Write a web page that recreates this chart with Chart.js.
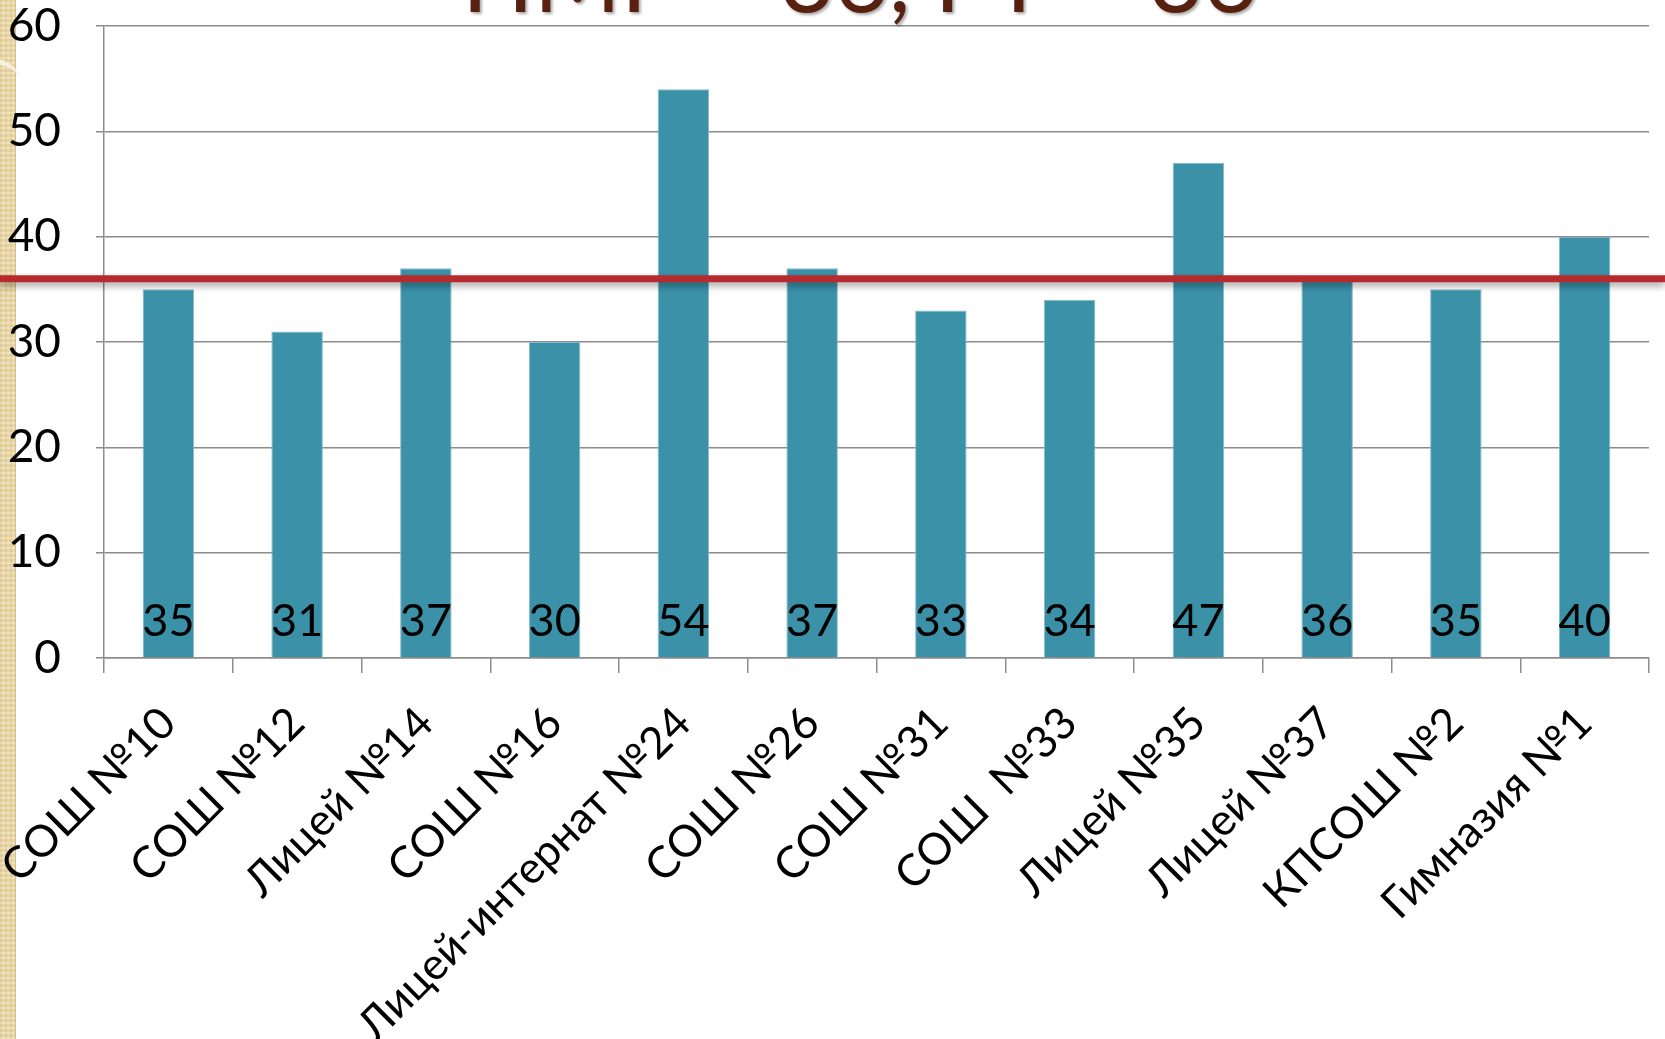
<!DOCTYPE html>
<html lang="ru">
<head>
<meta charset="utf-8">
<title>НМР – 36, РТ – 36</title>
<script src="https://cdn.jsdelivr.net/npm/chart.js@4.4.1/dist/chart.umd.min.js"></script>
<style>
  html, body { margin: 0; padding: 0; background: #fff; overflow: hidden; }
  #wrap { position: relative; width: 1665px; height: 1039px; }
  #strip {
    position: absolute; left: 0; top: 0; width: 15px; height: 100%;
    background-color: #e8d5a3;
    background-image:
      repeating-linear-gradient(0deg, rgba(255,255,255,0.3) 0 2px, transparent 2px 5px),
      repeating-linear-gradient(90deg, rgba(190,165,100,0.25) 0 2px, transparent 2px 5px);
    border-right: 1px solid #d2bf88;
  }
  #swoosh {
    position: absolute; left: -40px; top: 58px; width: 60px; height: 40px;
    border-top: 6px solid rgba(245,240,225,0.95); border-radius: 50%;
  }
  canvas { position: absolute; left: 0; top: 0; }
</style>
</head>
<body>
<div id="wrap">
  <div id="strip"></div>
  <div id="swoosh"></div>
  <canvas id="barChart" width="1665" height="1039"></canvas>
</div>
<script>
  // data
  const schools = ['СОШ №10', 'СОШ №12', 'Лицей №14', 'СОШ №16', 'Лицей-интернат №24', 'СОШ №26',
                   'СОШ №31', 'СОШ  №33', 'Лицей №35', 'Лицей №37', 'КПСОШ №2', 'Гимназия №1'];
  const scores = [35, 31, 37, 30, 54, 37, 33, 34, 47, 36, 35, 40];
  const yTicks = [0, 10, 20, 30, 40, 50, 60];
  const avgNMR = 36;   // НМР
  const avgRT = 36;    // РТ
  const titleText = 'НМР – ' + avgNMR + ', РТ – ' + avgRT;

  const FONT = 'Lato, "Open Sans", sans-serif';
  const gridGrey = '#8c8c8c';

  // red average line across the whole slide + value labels at bar bottoms
  const overlays = {
    id: 'overlays',
    afterDatasetsDraw(chart) {
      const ctx = chart.ctx;
      const yScale = chart.scales.y;
      const yAvg = yScale.getPixelForValue(avgNMR);
      ctx.save();
      ctx.shadowColor = 'rgba(0,0,0,0.35)';
      ctx.shadowBlur = 7;
      ctx.shadowOffsetY = 4;
      ctx.strokeStyle = '#b72a2e';
      ctx.lineWidth = 7;
      ctx.beginPath();
      ctx.moveTo(0, yAvg);
      ctx.lineTo(chart.width, yAvg);
      ctx.stroke();
      ctx.restore();

      ctx.save();
      ctx.fillStyle = '#000';
      ctx.font = '45px ' + FONT;
      ctx.textAlign = 'center';
      ctx.textBaseline = 'alphabetic';
      const base = yScale.getPixelForValue(0) - 22;
      chart.getDatasetMeta(0).data.forEach((bar, i) => {
        ctx.fillText(String(scores[i]), bar.x, base);
      });
      ctx.restore();
    },
    afterDraw(chart) {
      // title sits above the canvas edge, only its lower part is visible
      const ctx = chart.ctx;
      ctx.save();
      ctx.font = '94px ' + FONT;
      ctx.textAlign = 'center';
      ctx.textBaseline = 'alphabetic';
      ctx.shadowColor = 'rgba(0,0,0,0.35)';
      ctx.shadowBlur = 3;
      ctx.shadowOffsetX = 2;
      ctx.shadowOffsetY = 2;
      ctx.fillStyle = '#58200f';
      ctx.fillText(titleText, 860, 12);
      ctx.restore();
    }
  };

  const ctx = document.getElementById('barChart').getContext('2d');
  const chart = new Chart(ctx, {
    type: 'bar',
    data: {
      labels: schools,
      datasets: [{
        data: scores,
        backgroundColor: '#3a91a8',
        borderColor: '#86bccb',
        borderWidth: 1,
        borderSkipped: 'bottom',
        barPercentage: 0.4,
        categoryPercentage: 1
      }]
    },
    options: {
      responsive: false,
      animation: false,
      layout: { padding: { top: 0, right: 16, left: 0, bottom: 0 } },
      plugins: {
        legend: { display: false },
        tooltip: { enabled: false },
        title: { display: false }
      },
      scales: {
        x: {
          grid: { drawOnChartArea: false, drawTicks: true, tickLength: 15, color: gridGrey, lineWidth: 1.5 },
          border: { display: true, color: gridGrey, width: 1.5 },
          ticks: {
            color: '#000',
            font: { family: FONT, size: 44 },
            minRotation: 45,
            maxRotation: 45,
            autoSkip: false,
            padding: 24
          },
          afterFit(scale) {
            scale.height = 381;
            scale.paddingLeft = 0;
            scale.paddingRight = 0;
          }
        },
        y: {
          min: yTicks[0],
          max: yTicks[yTicks.length - 1],
          grid: { color: gridGrey, lineWidth: 1.5, tickLength: 8 },
          border: { display: true, color: gridGrey, width: 1.5 },
          afterBuildTicks(scale) { scale.ticks = yTicks.map(v => ({ value: v })); },
          ticks: {
            color: '#000',
            font: { family: FONT, size: 46 },
            padding: 35
          },
          afterFit(scale) {
            scale.width = 104;
            scale.paddingTop = 26;
            scale.paddingBottom = 0;
          }
        }
      }
    },
    plugins: [overlays]
  });
</script>
</body>
</html>
